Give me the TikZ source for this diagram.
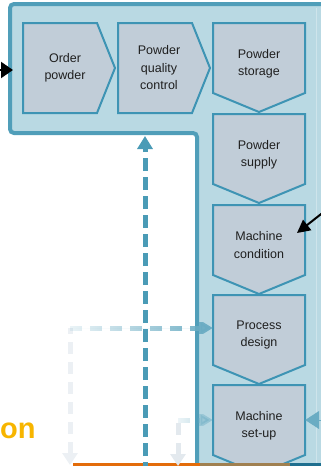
\documentclass[tikz,border=0pt]{standalone}
\usepackage{fontspec}
\setmainfont{Liberation Sans}
\usetikzlibrary{arrows.meta,fadings}

\definecolor{frameline}{RGB}{80,158,185}
\definecolor{framefill}{RGB}{185,217,227}
\definecolor{boxline}{RGB}{62,148,180}
\definecolor{boxfill}{RGB}{193,205,216}
\definecolor{flowblue}{RGB}{74,155,182}
\definecolor{flowpale}{RGB}{236,240,244}
\definecolor{flowtip}{RGB}{106,172,195}
\definecolor{titleorange}{RGB}{247,181,0}
\definecolor{barorange}{RGB}{227,108,10}
\definecolor{barbrown}{RGB}{160,128,80}
\definecolor{barteal}{RGB}{31,111,143}

\tikzfading[name=flowin, left color=transparent!88, right color=transparent!0]
\tikzfading[name=flowsoft, left color=transparent!90, right color=transparent!45]

% chevron outlines: left/top corner
\newcommand{\rightstep}[2]{\draw[stepline] (#1,#2) -- (#1+74,#2) -- (#1+92,#2+45) -- (#1+74,#2+90) -- (#1,#2+90) -- cycle;}
\newcommand{\downstep}[2]{\draw[stepline] (#1,#2) -- (#1+92,#2) -- (#1+92,#2+70) -- (#1+46,#2+89) -- (#1,#2+70) -- cycle;}

\tikzset{
  stepline/.style={draw=boxline, fill=boxfill, line width=2pt, line join=miter},
  steptext/.style={inner sep=0pt, minimum width=92pt, align=center, text=black!88,
    font=\fontsize{12.5}{17.5}\selectfont},
  flowdash/.style={line width=5pt, dash pattern=on 12pt off 8pt},
  bluedash/.style={line width=5pt, dash pattern=on 13pt off 6pt, draw=flowblue},
}

\begin{document}
\begin{tikzpicture}[x=1pt,y=-1pt]
\useasboundingbox (0,0) rectangle (321,466);
\clip (0,0) rectangle (321,466);

% L-shaped frame
\draw[draw=frameline, fill=framefill, line width=4pt, rounded corners=4pt]
  (10,4) -- (335,4) -- (335,480) -- (197,480) -- (197,133) -- (10,133) -- cycle;
\draw[draw=framefill!70!white, line width=1pt] (316,8) -- (316,470);

\rightstep{23}{23}
\rightstep{118}{23}
\downstep{213}{23}
\downstep{213}{114}
\downstep{213}{205}
\downstep{213}{295}
\downstep{213}{385}

\node[steptext, minimum width=0pt] (order)   at (65,68)  {Order\\powder};
\node[steptext, minimum width=0pt] (quality) at (159,68) {Powder\\quality\\control};

\node[steptext] (storage)   at (259,64)  {Powder\\storage};
\node[steptext] (supply)    at (259,155) {Powder\\supply};
\node[steptext] (condition) at (259,245) {Machine\\condition};
\node[steptext] (process)   at (259,335) {Process\\design};
\node[steptext] (setup)     at (259,426) {Machine\\set-up};

\node[anchor=base west, inner sep=0pt, text=titleorange, font=\fontsize{29}{29}\bfseries\selectfont] (title) at (0,438) {on};

% bars along the bottom
\draw[line width=3.5pt, barorange] (73,464.5) -- (200,464.5);
\draw[line width=3.5pt, barbrown] (200,464.5) -- (290,464.5);
\draw[line width=3.5pt, barteal] (290,464.5) -- (321,464.5);

% incoming black arrows
\coordinate (orderin) at (13,70);
\coordinate (condin) at (297,233);
\draw[line width=2pt, -{Triangle[length=12pt,width=16pt]}] (-5,70) -- (orderin);
\draw[line width=2pt, -{Triangle[length=13pt,width=13pt]}] (330,207) -- (condin);

% feedback to quality control
\coordinate (qcin) at (145,136);
\draw[bluedash, -{Triangle[length=13pt,width=15pt]}] (145,475) -- (qcin);

% light flows
\coordinate (turnA) at (70,328);
\draw[flowdash, draw=flowpale, {Triangle[length=12pt,width=15pt]}-] (70,465) -- (turnA);
\draw[flowdash, draw=flowtip, fill=flowtip, path fading=flowin, -{Triangle[length=14pt,width=16pt]}] (turnA) -- (turnA -| process.west);

\coordinate (turnB) at (178,420);
\draw[flowdash, draw=flowpale!80!boxfill, {Triangle[length=12pt,width=15pt]}-] (178,466) -- (turnB);
\draw[flowdash, draw=flowtip, path fading=flowsoft, -{Triangle[length=14pt,width=16pt]}] (turnB) -- (turnB -| setup.west);
\draw[line width=1pt, draw=flowtip, -{Triangle[length=14pt,width=18pt]}] (321,420) -- (turnB -| setup.east);

\end{tikzpicture}
\end{document}
